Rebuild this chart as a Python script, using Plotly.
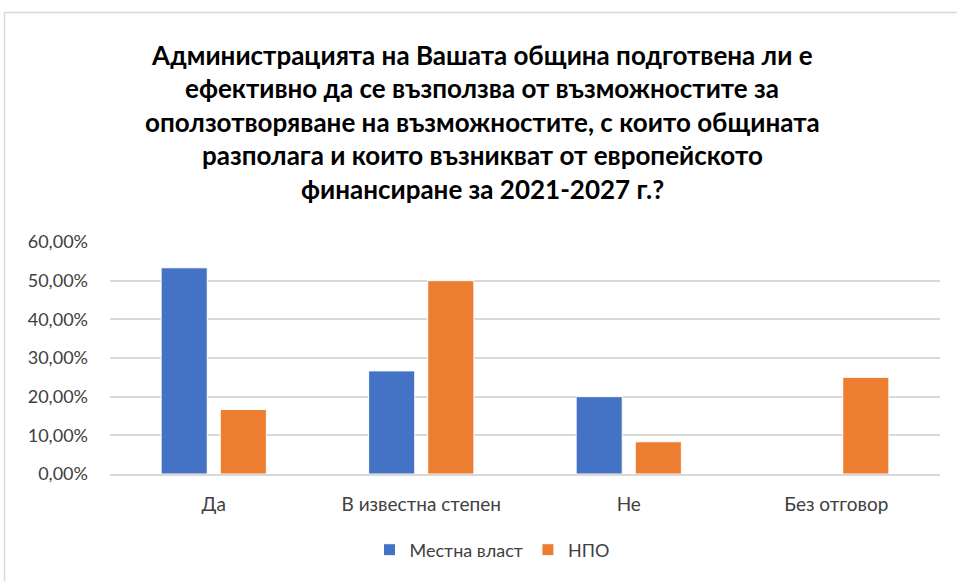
import plotly.graph_objects as go

# Survey answers and shares per respondent group
categories = ["Да", "В известна степен", "Не", "Без отговор"]
local_gov = [0.5333, 0.2667, 0.20, 0.0]
ngo = [0.1667, 0.50, 0.0833, 0.25]
series_names = ["Местна власт", "НПО"]
title_lines = [
    "Администрацията на Вашата община подготвена ли е",
    "ефективно да се възползва от възможностите за",
    "оползотворяване на възможностите, с които общината",
    "разполага и които възникват от европейското",
    "финансиране за 2021-2027 г.?",
]
tick_vals = [0, 0.1, 0.2, 0.3, 0.4, 0.5, 0.6]
tick_text = ["0,00%", "10,00%", "20,00%", "30,00%", "40,00%", "50,00%", "60,00%"]

W, H = 957, 581
L, R, T, B = 110, 17, 242, 107
plot_h = H - T - B
plot_w = W - L - R

FONT = "Lato"
BLUE = "#4472C4"
ORANGE = "#ED7D31"
GRID = "#D9D9D9"
TEXT = "#404040"

fig = go.Figure()
fig.add_trace(go.Bar(x=categories, y=local_gov, name=series_names[0],
                     marker=dict(color=BLUE, line=dict(color="white", width=1))))
fig.add_trace(go.Bar(x=categories, y=ngo, name=series_names[1],
                     marker=dict(color=ORANGE, line=dict(color="white", width=1))))


def py(px):
    return (H - B - px) / plot_h


def pxx(px):
    return (px - L) / plot_w


line_centers = [55, 88, 122, 155, 189]
annotations = []
for txt, yc in zip(title_lines, line_centers):
    annotations.append(dict(
        text=f"<b>{txt}</b>", xref="paper", yref="paper",
        x=pxx(482), y=py(yc), xanchor="center", yanchor="middle",
        showarrow=False, font=dict(family=FONT, size=26, color="#000000"),
    ))

fig.update_layout(
    width=W, height=H,
    margin=dict(l=L, r=R, t=T, b=B, pad=0),
    paper_bgcolor="white", plot_bgcolor="white",
    barmode="group", bargap=0.43, bargroupgap=0.22,
    font=dict(family=FONT, size=18, color=TEXT),
    annotations=annotations,
    showlegend=True,
    legend=dict(orientation="h", x=pxx(492), xanchor="center",
                y=py(550), yanchor="middle",
                font=dict(family=FONT, size=18, color=TEXT),
                itemwidth=30, traceorder="normal"),
    shapes=[dict(type="rect", xref="paper", yref="paper",
                 x0=pxx(4.5), x1=1.2, y0=-0.8, y1=py(12.5),
                 line=dict(color=GRID, width=1.5), layer="below")],
)
fig.update_yaxes(range=[0, 0.6], tickvals=tick_vals, ticktext=tick_text,
                 showgrid=True, gridcolor=GRID, gridwidth=1.5,
                 zeroline=False, showline=False, ticks="",
                 ticklabelstandoff=21, tickfont=dict(size=18, color=TEXT))
fig.update_xaxes(showline=True, linecolor=GRID, linewidth=1.5, ticks="",
                 ticklabelstandoff=12, tickfont=dict(size=19, color=TEXT))

fig.write_html("out.html")
